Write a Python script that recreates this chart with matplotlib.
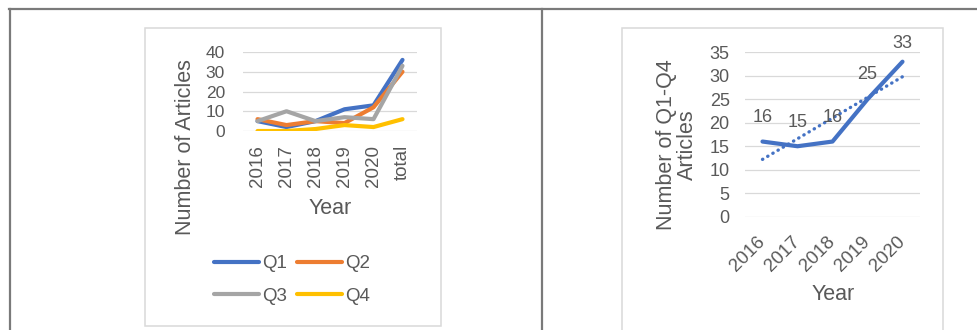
import numpy as np
import matplotlib
matplotlib.use('Agg')
import matplotlib.pyplot as plt
from matplotlib.patches import Rectangle
from matplotlib.lines import Line2D

plt.rcParams['font.family'] = ['Liberation Sans', 'DejaVu Sans']

# data for the left chart (articles per quartile)
years_left = ['2016', '2017', '2018', '2019', '2020', 'total']
q1 = [5, 2, 5, 11, 13, 36]
q2 = [6, 3, 5, 4, 12, 30]
q3 = [5, 10, 5, 7, 6, 33]
q4 = [0, 0, 1, 3, 2, 6]

# data for the right chart (Q1-Q4 combined)
years_right = ['2016', '2017', '2018', '2019', '2020']
q_all = [16, 15, 16, 25, 33]

W, H = 978, 330
txt = '#595959'
grid = '#D9D9D9'
colors = ['#4472C4', '#ED7D31', '#A5A5A5', '#FFC000']

fig = plt.figure(figsize=(W / 100, H / 100), dpi=100)

def fx(px):
    return px / W

def fy(py):
    return 1 - py / H

# table lines
tcol = '#7A7A7A'
fig.add_artist(Line2D([fx(9), fx(978)], [fy(9), fy(9)], color=tcol, lw=1.6))
fig.add_artist(Line2D([fx(10), fx(10)], [fy(9), fy(335)], color=tcol, lw=1.6))
fig.add_artist(Line2D([fx(542), fx(542)], [fy(9), fy(335)], color=tcol, lw=1.6))

# chart frames
fig.add_artist(Rectangle((fx(145), fy(326)), fx(441) - fx(145), fy(28) - fy(326),
                         transform=fig.transFigure, fill=False, ec=grid, lw=1.1))
fig.add_artist(Rectangle((fx(622), fy(340)), fx(943) - fx(622), fy(28) - fy(340),
                         transform=fig.transFigure, fill=False, ec=grid, lw=1.1))

def style(ax):
    for s in ax.spines.values():
        s.set_visible(False)
    ax.yaxis.grid(True, color=grid, lw=0.9)
    ax.set_axisbelow(True)
    ax.tick_params(length=0, colors=txt)

# left chart
ax1 = fig.add_axes([fx(243), fy(131), fx(417) - fx(243), fy(52) - fy(131)])
x1 = np.arange(len(years_left))
lines = []
for vals, c, name in zip([q1, q2, q3, q4], colors, ['Q1', 'Q2', 'Q3', 'Q4']):
    ln, = ax1.plot(x1, vals, color=c, lw=3, label=name, solid_capstyle='round', solid_joinstyle='round')
    lines.append(ln)
style(ax1)
ax1.set_xlim(-0.5, len(years_left) - 0.5)
ax1.set_ylim(0, 40)
ax1.set_yticks([0, 10, 20, 30, 40])
ax1.set_xticks(x1)
ax1.set_xticklabels(years_left, rotation=90, fontsize=13.5)
ax1.tick_params(axis='y', labelsize=12.5, pad=13)
ax1.tick_params(axis='x', pad=10)
ax1.set_ylabel('Number of Articles', fontsize=15.5, color=txt, va='center')
ax1.yaxis.set_label_coords(-0.328, -0.209)
ax1.set_xlabel('Year', fontsize=15.5, color=txt, va='center')
ax1.xaxis.set_label_coords(0.5, -0.975)
# legend rows: Q1 Q2 / Q3 Q4
order = [0, 2, 1, 3]
ax1.legend([lines[i] for i in order], [lines[i].get_label() for i in order],
           loc='center', ncol=2, bbox_to_anchor=(fx(292), fy(280)), bbox_transform=fig.transFigure,
           frameon=False, fontsize=13.5, handlelength=2.4, handletextpad=0.2, columnspacing=0.5,
           labelspacing=0.8, labelcolor=txt)

# right chart
ax2 = fig.add_axes([fx(745), fy(216.7), fx(920) - fx(745), fy(52.3) - fy(216.7)])
x2 = np.arange(len(years_right))
ax2.plot(x2, q_all, color=colors[0], lw=3, solid_capstyle='round', solid_joinstyle='round')
k, b = np.polyfit(x2, q_all, 1)
ax2.plot(x2, k * x2 + b, color=colors[0], lw=2.4, linestyle=(0, (0.1, 1.7)), dash_capstyle='round')
label_dy = [17, 17, 17, 18, 13]
for xi, v, dy in zip(x2, q_all, label_dy):
    ax2.annotate(str(v), (xi, v), xytext=(0, dy), textcoords='offset points',
                 ha='center', va='center', fontsize=13, color=txt)
style(ax2)
ax2.set_xlim(-0.5, len(years_right) - 0.5)
ax2.set_ylim(0, 35)
ax2.set_yticks(range(0, 36, 5))
ax2.set_xticks(x2)
ax2.set_xticklabels(years_right, fontsize=13.5)
for lab in ax2.get_xticklabels():
    lab.set_rotation(45)
    lab.set_ha('right')
    lab.set_va('center')
    lab.set_rotation_mode('anchor')
ax2.tick_params(axis='y', labelsize=13, pad=11)
ax2.tick_params(axis='x', pad=16)
ax2.set_ylabel('Number of Q1-Q4\nArticles', fontsize=15.5, color=txt, va='center', linespacing=1.0)
ax2.yaxis.set_label_coords(-0.391, 0.436)
ax2.set_xlabel('Year', fontsize=15.5, color=txt, va='center')
ax2.xaxis.set_label_coords(0.503, -0.476)

fig.savefig('out.png', dpi=100)
